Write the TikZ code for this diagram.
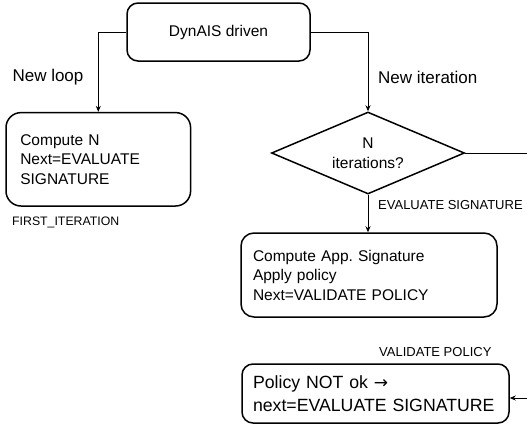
\documentclass[tikz,border=0pt]{standalone}
\usepackage{fontspec}
\setmainfont{Liberation Sans}
\newfontfamily\symfont{DejaVu Sans}
\usetikzlibrary{shapes.geometric,arrows.meta}
\frenchspacing
\begin{document}
\begin{tikzpicture}[x=1pt,y=-1pt,
  box/.style={draw,line width=1.5pt,rounded corners=11pt,inner sep=0pt},
  conn/.style={line width=0.8pt,-{Stealth[length=6pt,width=5pt]}},
  plain/.style={line width=0.8pt},
  maintext/.style={font=\fontsize{15.5}{19.5}\selectfont},
  bigtext/.style={font=\fontsize{17.7}{22.5}\selectfont},
  lbl/.style={font=\fontsize{17}{20}\selectfont,inner sep=0pt},
  small/.style={font=\fontsize{13}{16}\selectfont,inner sep=0pt}]
\useasboundingbox (0,0) rectangle (527,429);
% boxes
\node[box,maintext,minimum width=183pt,minimum height=58pt] (top) at (218.5,32) {DynAIS driven};
\node[box,maintext,rounded corners=15pt,minimum width=184.6pt,minimum height=93.4pt,
      text width=156pt,align=left] (left) at (98.3,159.3) {Compute N\\Next=EVALUATE\\SIGNATURE};
\node[draw,line width=1.5pt,shape=diamond,aspect=2.35,inner sep=0pt,minimum width=193pt,minimum height=82pt,
      maintext,align=center] (dia) at (368,153) {N\\iterations?};
\node[box,maintext,rounded corners=13pt,minimum width=256pt,minimum height=84pt,
      text width=232pt,align=left] (app) at (369,275) {Compute App. Signature\\Apply policy\\Next=VALIDATE POLICY};
\node[box,bigtext,minimum width=267pt,minimum height=59pt,
      text width=245pt,align=left] (pol) at (375.5,393.5) {Policy NOT ok {\symfont\fontsize{17}{20}\selectfont →}\\next=EVALUATE SIGNATURE};
% labels
\node[lbl] (lnl) at (48,77) {New loop};
\node[lbl,anchor=west] (lni) at (378,77) {New iteration};
\node[small,font=\fontsize{12.3}{15}\selectfont,anchor=west] (lfi) at (12,222) {FIRST\_ITERATION};
\node[small,anchor=west] (les) at (378,205) {EVALUATE SIGNATURE};
\node[small,anchor=west] (lvp) at (379,352) {VALIDATE POLICY};
% free ends
\coordinate (re) at (527,153);
\coordinate (rp) at (527,398);
% connectors
\draw[conn] (top.west) -| (left.north);
\draw[conn] (top.east) -| (dia.north);
\draw[plain] (dia.east) -- (re);
\draw[conn] (dia.south) -- (dia.south |- app.north);
\draw[conn] (rp) -- (rp -| pol.east);
\end{tikzpicture}
\end{document}
